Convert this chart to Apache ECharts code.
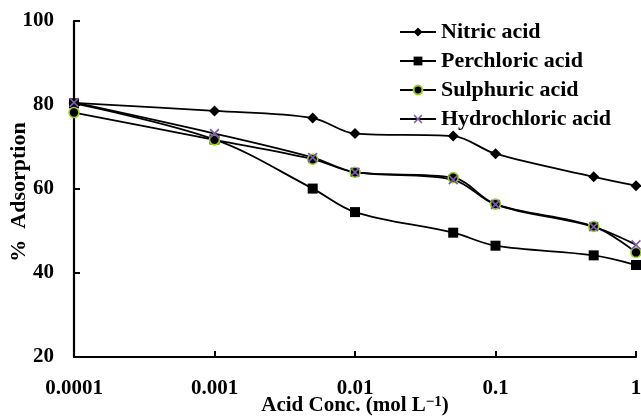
<!DOCTYPE html>
<html>
<head>
<meta charset="utf-8">
<script src="https://cdn.jsdelivr.net/npm/echarts@6/dist/echarts.min.js"></script>
<style>html,body{margin:0;padding:0;background:#fff}#c{width:641px;height:416px}</style>
</head>
<body>
<div id="c"></div>
<script>
const concentrations = [0.0001, 0.001, 0.005, 0.01, 0.05, 0.1, 0.5, 1];
const nitric = [80.5, 78.6, 76.9, 73.2, 72.6, 68.4, 62.9, 60.8];
const perchloric = [80.4, 71.8, 60.1, 54.5, 49.6, 46.5, 44.2, 41.9];
const sulphuric = [78.2, 71.7, 67.1, 64.0, 62.7, 56.4, 51.1, 44.9];
const hydrochloric = [80.6, 73.2, 67.5, 64.0, 62.2, 56.3, 51.0, 46.7];
const seriesNames = ['Nitric acid', 'Perchloric acid', 'Sulphuric acid', 'Hydrochloric acid'];
const xTickLabels = {0.0001: '0.0001', 0.001: '0.001', 0.01: '0.01', 0.1: '0.1', 1: '1'};

const FONT = "'Liberation Serif', 'Times New Roman', serif";
const pairs = v => concentrations.map((x, i) => [x, v[i]]);
const crossPath = 'path://M0,1.2 L1.2,0 L5,3.8 L8.8,0 L10,1.2 L6.2,5 L10,8.8 L8.8,10 L5,6.2 L1.2,10 L0,8.8 L3.8,5 Z';

function mk(name, data, symbol, size, itemStyle) {
  return {
    name: name, type: 'line', data: pairs(data), smooth: 0.35,
    symbol: symbol, symbolSize: size, showSymbol: true,
    lineStyle: {color: '#000', width: 1.8},
    itemStyle: itemStyle,
    z: 3
  };
}

const chart = echarts.init(document.getElementById('c'), null, {renderer: 'canvas'});
chart.setOption({
  animation: false,
  backgroundColor: '#fff',
  grid: {left: 74, right: 5, top: 21, bottom: 59, containLabel: false, outerBoundsMode: 'none'},
  legend: {
    orient: 'vertical', left: 399, top: 21, padding: 0,
    itemWidth: 36, itemHeight: 11, itemGap: 7,
    textStyle: {fontFamily: FONT, fontWeight: 'bold', fontSize: 22, color: '#000', lineHeight: 22},
    data: seriesNames
  },
  xAxis: {
    type: 'log', logBase: 10, min: 0.0001, max: 1,
    name: 'Acid Conc. (mol L{sup|−1})',
    nameLocation: 'middle', nameGap: 38, nameMoveOverlap: false,
    nameTextStyle: {
      fontFamily: FONT, fontWeight: 'bold', fontSize: 21, color: '#000', lineHeight: 21,
      rich: {sup: {fontFamily: FONT, fontWeight: 'bold', fontSize: 15, verticalAlign: 'top', lineHeight: 21, color: '#000'}}
    },
    axisLine: {lineStyle: {color: '#000', width: 2.2}},
    axisTick: {inside: true, length: 6, lineStyle: {color: '#000', width: 2}},
    minorTick: {show: false},
    splitLine: {show: false},
    axisLabel: {
      fontFamily: FONT, fontWeight: 'bold', fontSize: 21, color: '#000', margin: 21,
      formatter: v => xTickLabels[v] !== undefined ? xTickLabels[v] : (+v.toPrecision(6)).toString(),
      showMinLabel: true, showMaxLabel: true
    }
  },
  yAxis: {
    type: 'value', min: 20, max: 100, interval: 20,
    name: '%  Adsorption', nameLocation: 'middle', nameGap: 44, nameRotate: 90, nameMoveOverlap: false,
    nameTextStyle: {fontFamily: FONT, fontWeight: 'bold', fontSize: 22, color: '#000', padding: [0, 6, 0, 0]},
    axisLine: {show: true, lineStyle: {color: '#000', width: 2.2}},
    axisTick: {show: true, inside: true, length: 6, lineStyle: {color: '#000', width: 2}},
    splitLine: {show: false},
    axisLabel: {fontFamily: FONT, fontWeight: 'bold', fontSize: 21, color: '#000', margin: 20}
  },
  series: [
    mk(seriesNames[0], nitric, 'diamond', 11, {color: '#000'}),
    mk(seriesNames[1], perchloric, 'rect', 10, {color: '#000'}),
    mk(seriesNames[2], sulphuric, 'circle', 10, {color: '#000', borderColor: '#9acd32', borderWidth: 1.6}),
    mk(seriesNames[3], hydrochloric, crossPath, 10, {color: '#7b5aa6'})
  ]
});
</script>
</body>
</html>
